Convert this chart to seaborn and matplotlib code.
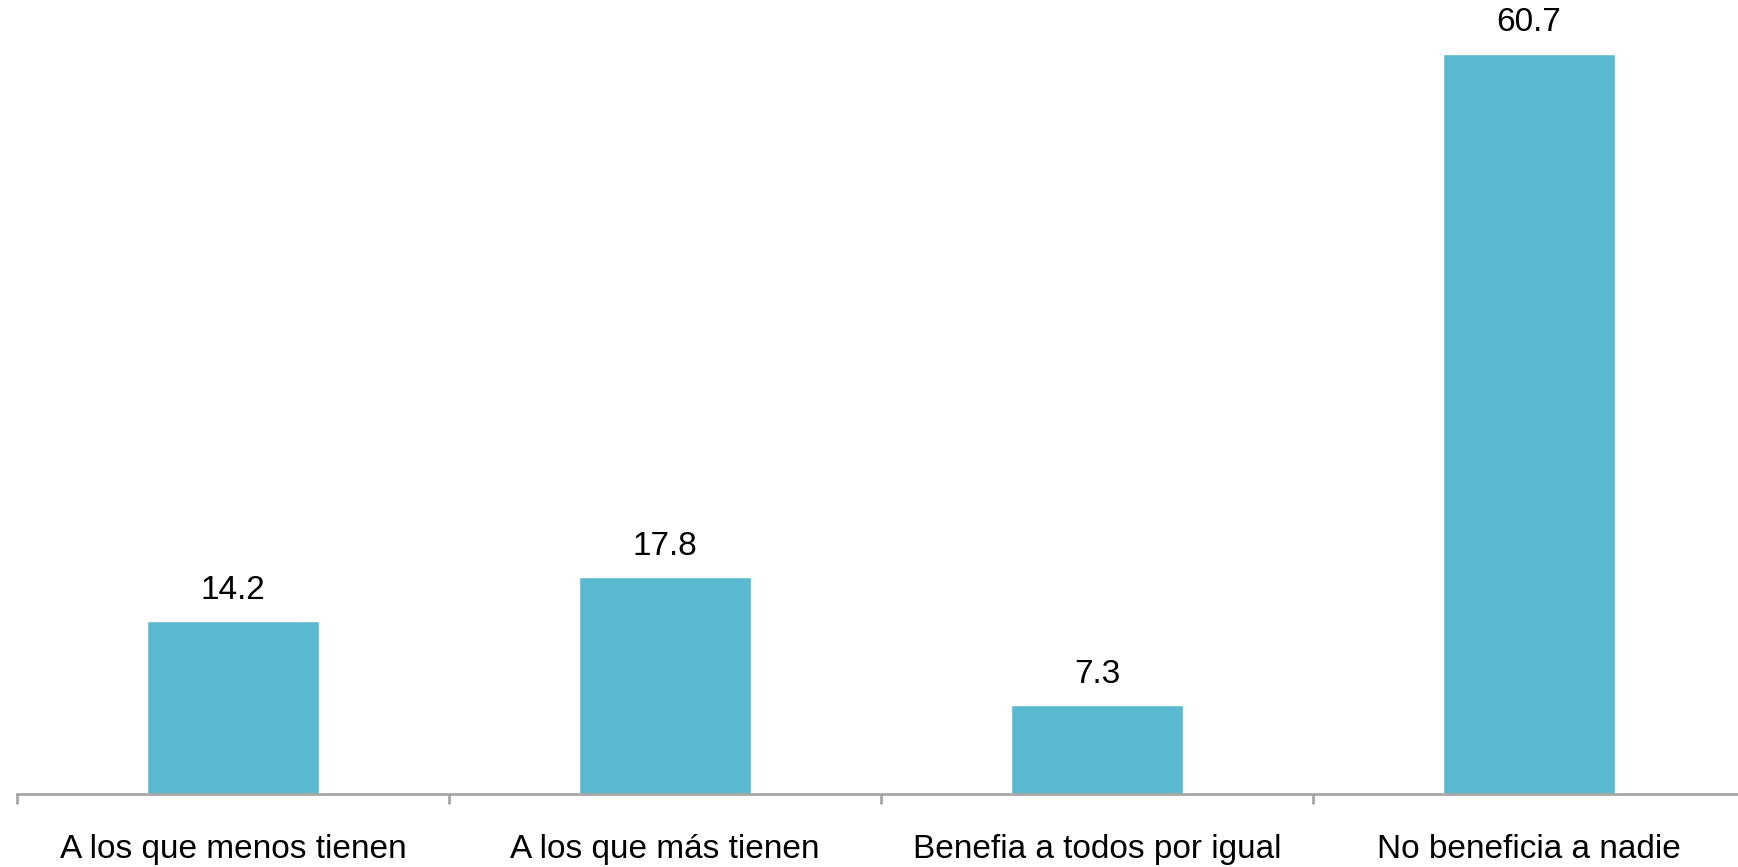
import matplotlib
matplotlib.use("Agg")
import matplotlib.pyplot as plt
import seaborn as sns
import pandas as pd
import numpy as np

# %% data
categorias = ["A los que menos tienen", "A los que más tienen",
              "Benefia a todos por igual", "No beneficia a nadie"]
valores = [14.2, 17.8, 7.3, 60.7]

df = pd.DataFrame({"categoria": categorias, "valor": valores})

# %% plot
sns.set_style("white")
plt.rcParams["font.family"] = ["Liberation Sans", "DejaVu Sans"]
plt.rcParams["text.color"] = "black"
plt.rcParams["xtick.color"] = "black"

fig = plt.figure(figsize=(17.38, 8.67), dpi=100)
ax = fig.add_axes([17 / 1738, 73 / 867, 1728 / 1738, 794 / 867])

sns.barplot(data=df, x="categoria", y="valor", color="#5bb8d1",
            saturation=1, width=0.4, ax=ax)

ax.set_xlim(-0.5, len(categorias) - 0.5)
ax.set_ylim(0, 65.1)

for i, v in enumerate(valores):
    ax.annotate(f"{v:.1f}", (i, v), xytext=(0, 11), textcoords="offset points",
                ha="center", va="bottom", fontsize=24, color="black")

sns.despine(ax=ax, left=True, top=True, right=True)
ax.spines["bottom"].set_color("#a6a6a6")
ax.spines["bottom"].set_linewidth(2)
ax.set_yticks([])
ax.set_xlabel("")
ax.set_ylabel("")

# ticks between categories, labels centered
ax.set_xticks(np.arange(-0.5, len(categorias), 1.0))
ax.set_xticklabels([])
ax.set_xticks(np.arange(len(categorias)), minor=True)
ax.set_xticklabels(categorias, minor=True, fontsize=24)
ax.tick_params(axis="x", which="major", direction="out", length=7,
               width=2, color="#a6a6a6", bottom=True)
ax.tick_params(axis="x", which="minor", length=0, pad=29, bottom=True,
               labelcolor="black")

fig.savefig("out.png", dpi=100)
